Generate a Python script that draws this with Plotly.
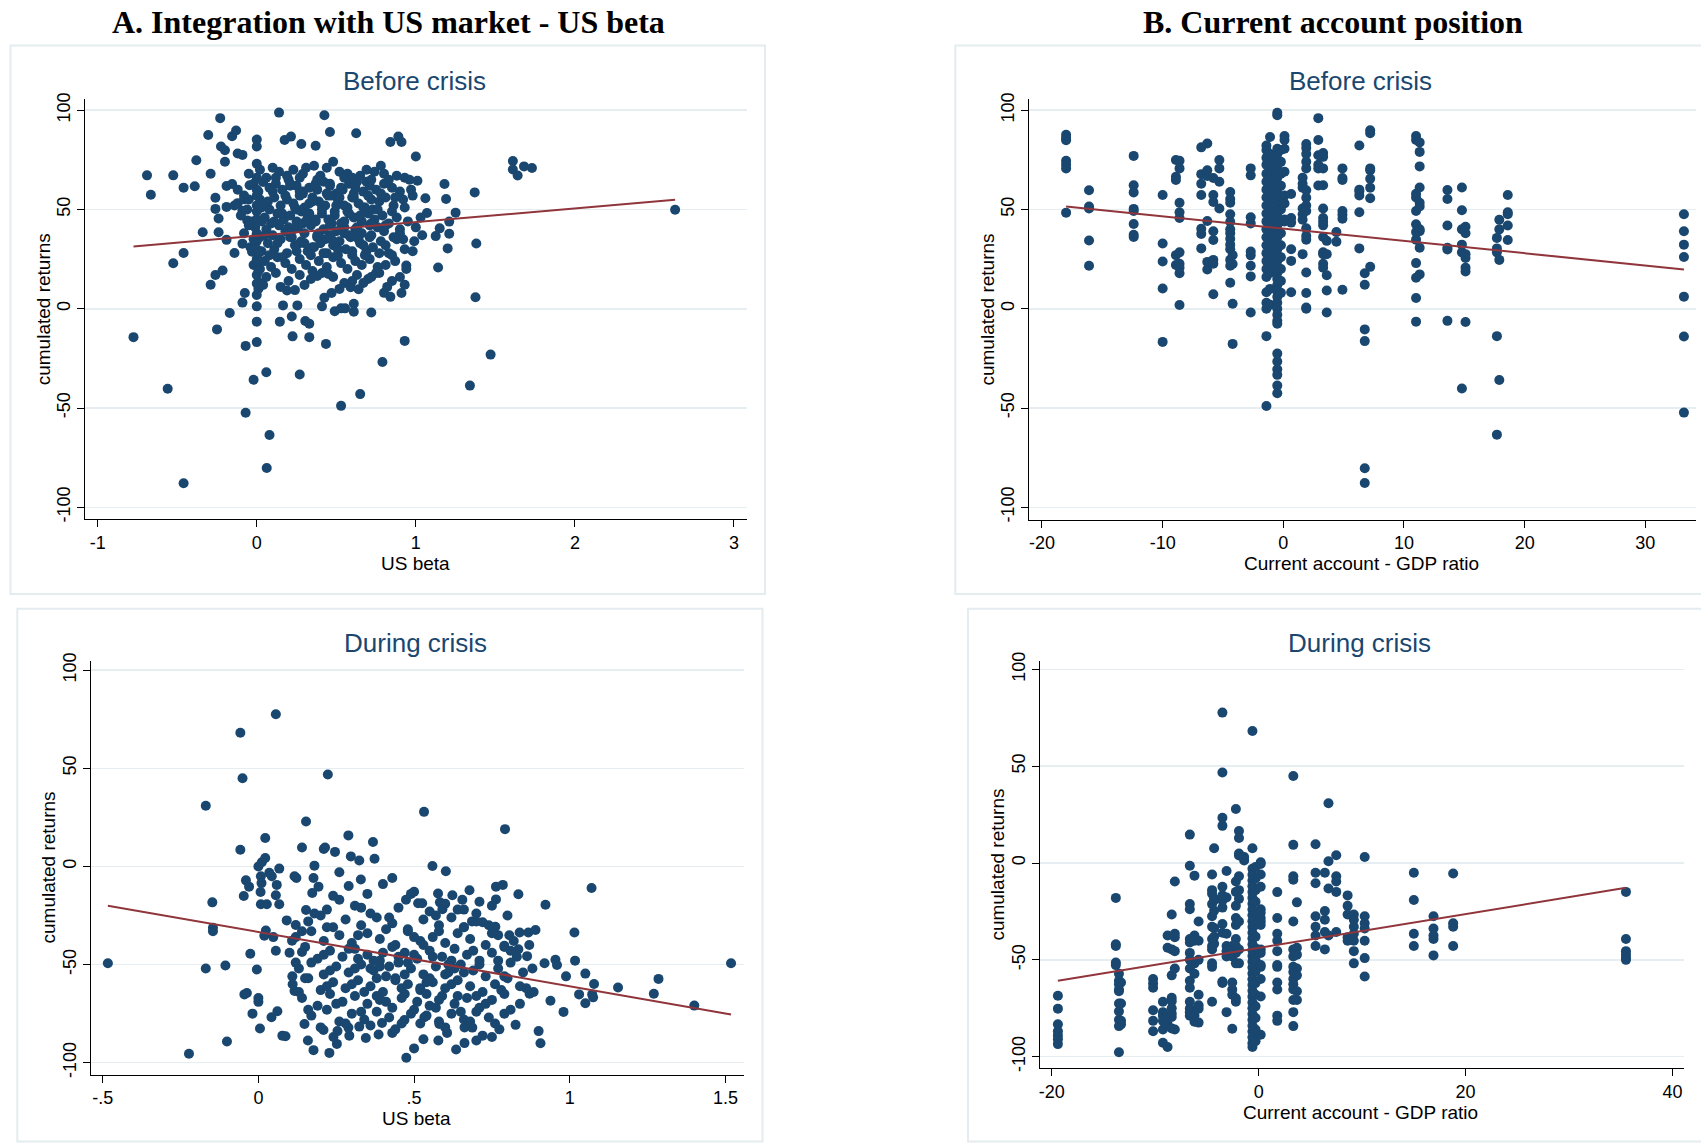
import plotly.graph_objects as go

# ---------------- DATA ----------------
# Panel A, before crisis: US beta (x) vs cumulated returns (y)
tl_x = [
    -0.775, -0.69, -0.666, -0.56, -0.525, -0.525, -0.46, -0.46, -0.46, -0.39,
    -0.38, -0.34, -0.305, -0.29, -0.29, -0.26, -0.26, -0.26, -0.25, -0.24,
    -0.24, -0.23, -0.225, -0.215, -0.2, -0.2, -0.19, -0.19, -0.19, -0.17,
    -0.155, -0.155, -0.14, -0.13, -0.12, -0.12, -0.09, -0.09, -0.09, -0.09,
    -0.08, -0.075, -0.07, -0.07, -0.06, -0.045, -0.03, -0.02, 0.0, 0.0,
    0.0, 0.0, 0.0, 0.06, 0.0625, 0.08, 0.14, 0.145, 0.165, 0.175,
    0.215, 0.22, 0.225, 0.255, 0.27, 0.28, 0.305, 0.33, 0.33, 0.37,
    0.41, 0.425, 0.425, 0.435, 0.46, 0.49, 0.53, 0.53, 0.555, 0.625,
    0.61, 0.61, 0.65, 0.72, 0.79, 0.8, 0.84, 0.84, 0.89, 0.91,
    0.91, 0.93, 0.93, 0.94, 1.0, 1.01, 1.06, 1.07, 1.125, 1.15,
    1.14, 1.18, 1.19, 1.2, 1.21, 1.21, 1.25, 1.34, 1.37, 1.375,
    1.38, 1.47, 1.61, 1.61, 1.64, 1.68, 1.73, 2.63,
    -0.05, 0.0, 0.02, 0.06, 0.1, 0.14, 0.19, 0.23, 0.27, 0.31, 0.36, 0.4, 0.44, 0.48, 0.52, 0.57, 0.6, 0.65, 0.69, 0.74, 0.78, 0.83, 0.88, 0.93, 0.96,
    -0.12, -0.02, 0.01, 0.04, 0.08, 0.12, 0.16, 0.2, 0.25, 0.29, 0.33, 0.38, 0.42, 0.46, 0.5, 0.54, 0.58, 0.62, 0.67, 0.71, 0.75, 0.8, 0.85, 0.9, 0.97,
    -0.14, -0.05, 0.0, 0.03, 0.07, 0.11, 0.15, 0.19, 0.23, 0.27, 0.3, 0.35, 0.39, 0.43, 0.47, 0.51, 0.55, 0.6, 0.64, 0.68, 0.72, 0.77, 0.81, 0.86, 0.92, 0.98,
    -0.1, -0.03, 0.0, 0.05, 0.09, 0.13, 0.17, 0.21, 0.25, 0.28, 0.32, 0.37, 0.41, 0.45, 0.49, 0.53, 0.57, 0.61, 0.66, 0.7, 0.74, 0.79, 0.83, 0.88, 0.95, 1.03,
    -0.08, -0.01, 0.02, 0.06, 0.1, 0.14, 0.18, 0.22, 0.26, 0.3, 0.34, 0.38, 0.42, 0.46, 0.5, 0.54, 0.58, 0.62, 0.66, 0.71, 0.76, 0.8, 0.86, 0.92, 0.99, 1.04,
    -0.04, 0.0, 0.03, 0.07, 0.11, 0.15, 0.19, 0.24, 0.28, 0.32, 0.36, 0.4, 0.44, 0.48, 0.52, 0.56, 0.6, 0.65, 0.69, 0.73, 0.78, 0.83, 0.88, 0.93, 0.98,
    -0.02, 0.0, 0.02, 0.05, 0.09, 0.13, 0.18, 0.22, 0.27, 0.31, 0.35, 0.39, 0.44, 0.48, 0.53, 0.57, 0.62, 0.66, 0.71, 0.76, 0.81, 0.87, 0.94,
    0.0, 0.02, 0.06, 0.12, 0.2, 0.27, 0.34, 0.41, 0.48, 0.55, 0.63, 0.7, 0.77, 0.85,
    0.21, 0.29, 0.37, 0.45, 0.53, 0.61, 0.69, 0.25, 0.33, 0.41, 0.49, 0.57, 0.65, 0.73, 0.23, 0.31, 0.39, 0.47, 0.55, 0.63, 0.71, 0.27, 0.35, 0.43, 0.51, 0.59, 0.67,
    0.0, 0.0, 0.0, 0.0, 0.0, 0.0, 0.01, 0.01,
    0.0, 0.0, 0.01, 0.19, 0.24, 0.59, 0.64, 0.38, 0.45, 0.47, 0.72, 0.75,
    0.04, 0.12, 0.21, 0.29, 0.38, 0.46, 0.55, 0.63, 0.72, 0.8,
    -0.08, 0.02, 0.1, 0.18, 0.27, 0.35, 0.44, 0.52, 0.61, 0.7, 0.78, 0.87,
    -0.06, 0.01, 0.08, 0.16, 0.24, 0.33, 0.41, 0.5, 0.58, 0.67, 0.76, 0.85, 0.93,
    -0.05, 0.03, 0.11, 0.2, 0.29, 0.37, 0.46, 0.55, 0.63, 0.72, 0.81, 0.9, 1.0,
    -0.02, 0.05, 0.13, 0.21, 0.3, 0.38, 0.47, 0.55, 0.64, 0.72, 0.81, 0.9,
    0.01, 0.08, 0.16, 0.25, 0.34, 0.42, 0.51, 0.6, 0.68, 0.77, 0.85,
    0.04, 0.15, 0.3, 0.52, 0.6, 0.67, 0.82, 0.9,
]
tl_y = [
    -14.3, 67.2, 57.4, -40.3, 67.2, 22.9, 61, 28.1, -87.9, 61.7,
    74.8, 38.5, 87.5, 68, 12.1, 55.9, 50.3, 17, -10.4, 45.5,
    38.5, 96, 81.7, 19.3, 79.8, 74, 61.8, 51.3, 34.7, -2.1,
    86.9, 62.8, 28.1, 89.8, 78.2, 53.2, 77.5, 49.3, 32.8, 3.1,
    55.1, 7.9, -18.7, -52.4, 44.5, 62.2, 28.7, -35.8, -6.5, -16.8,
    1.2, 85.2, 81.7, -32, -80.2, -63.6, 98.8, -6.5, 1.7, 85,
    86.7, -3.9, -13.9, 1.7, -33.1, 83, -6.2, -7.5, -14.3, 82.1,
    1.2, 97.5, 5.6, -17.7, 89, -1.3, -48.9, 0.2, 0.2, 88.4,
    2.5, -1.5, -43, -1.9, -26.8, 8, 6, 84, 86.7, 84,
    7.9, 12.1, -16.2, 21.8, 76.7, 64.5, 55.7, 48.2, 36.6, 40.5,
    20.8, 62.8, 55.3, 30.4, 37.8, 43.9, 48.4, -38.7, 58.6, 5.8,
    32.9, -23.1, 74.4, 70.1, 67.1, 71.7, 70.9, 49.9,
    68, 73, 70, 66, 71, 69, 67, 70, 66, 71, 72, 67, 71, 74, 69, 68, 66, 67, 70, 69, 72, 65, 67, 66, 65,
    60, 63, 59, 64, 61, 63, 60, 65, 62, 59, 61, 60, 64, 62, 58, 60, 63, 61, 59, 62, 60, 63, 61, 59, 60,
    52, 55, 57, 51, 54, 56, 52, 55, 53, 57, 51, 56, 54, 52, 57, 55, 52, 56, 53, 51, 55, 54, 56, 52, 55, 57,
    47, 44, 49, 46, 43, 48, 45, 47, 44, 49, 46, 44, 48, 45, 47, 43, 49, 46, 44, 48, 45, 47, 43, 46, 44, 46,
    38, 41, 36, 40, 37, 42, 39, 36, 41, 38, 42, 36, 40, 37, 39, 42, 37, 40, 38, 36, 41, 39, 36, 35, 34, 37,
    31, 34, 29, 33, 30, 35, 28, 32, 34, 29, 31, 33, 28, 32, 34, 30, 27, 33, 29, 31, 34, 28, 35, 30, 29,
    22, 25, 20, 24, 21, 26, 23, 20, 25, 22, 19, 24, 21, 26, 23, 20, 24, 22, 25, 21, 22, 24, 20,
    17, 13, 16, 18, 14, 17, 15, 18, 16, 13, 17, 15, 18, 14,
    62, 58, 63, 57, 61, 56, 64, 50, 48, 52, 49, 51, 47, 50, 40, 44, 38, 43, 41, 39, 42, 33, 31, 35, 30, 36, 32,
    66, 60, 52, 45, 38, 30, 24, 19,
    6.9, 12.7, 10, 9.2, 9.4, 10.8, 9.8, 16.5, 17.5, 7.9, 16, 18,
    64, 66, 63, 68, 65, 63, 66, 64, 65, 68,
    57, 55, 59, 57, 59, 54, 58, 56, 58, 57, 58, 56,
    50, 52, 50, 48, 51, 53, 50, 52, 48, 51, 50, 49, 51,
    42, 44, 44, 41, 43, 45, 42, 44, 41, 43, 42, 40, 41,
    35, 37, 33, 36, 33, 37, 35, 38, 35, 37, 32, 38,
    28, 27, 26, 29, 27, 28, 27, 29, 27, 28, 27,
    12, 11, 12, 10, 14, 13, 11, 16,
]
tl_fit_x = [-0.775, 2.63]
tl_fit_y = [31.4, 54.9]

# Panel B, before crisis: current account / GDP (columns by country) vs returns
tr_ca = [-18.0, -16.1, -12.4, -10.0, -8.9, -8.6, -6.8, -6.3, -5.8, -5.3, -4.4, -4.2, -2.7,
         -1.4, -1.1, -0.5, -0.2, 0.1, 0.65, 1.6, 1.9, 2.9, 3.3, 3.6, 4.4, 4.9, 6.3, 6.75,
         7.2, 11.0, 11.3, 13.6, 14.8, 15.1, 17.7, 17.9, 18.6, 33.2]
tr_ret = [
    [87.6, 86, 84.9, 74.5, 72.7, 70.7, 48.4],
    [59.7, 51.5, 50.5, 34.4, 21.7],
    [77, 62.2, 58.6, 50.3, 49.2, 42.7, 37.3, 36.1],
    [57.3, 32.9, 23.8, 10.2, -16.7],
    [74.9, 66.5, 64.9, 27, 22],
    [74.5, 70.7, 53.4, 48.6, 45.7, 28.4, 22.7, 20.7, 17.9, 1.9],
    [81.3, 67.8, 63, 57.3, 40.3, 37.7, 30.4],
    [83.2, 69.7, 66.9, 44.2, 23.6, 19.8],
    [65.9, 57.3, 53.8, 39, 34.6, 24.6, 22.7, 7.3],
    [74.9, 70.7, 64, 50.5],
    [58.8, 55.3, 53.4, 47.6, 43.8, 40, 38, 35.2, 32.3, 30, 24.6, 21.7, 13.1],
    [27, 22.5, 2.5, -17.7],
    [70.7, 67.2, 46.1, 43, 28.8, 26.9, 21.7, 16.3, -1.9],
    [82.2, 80, 76, 72.5, 68, 64, 60, 56, 52, 48, 44, 40, 36, 32, 28, 24, 20, 16, 8.3, 3, 0, -13.8, -49],
    [86.5, 78, 74, 70, 66, 62, 58, 54, 50, 46, 42, 38, 34, 30, 26, 22, 18, 10, 2],
    [98.7, 97.5, 80.6, 78, 75, 72, 69, 66, 63, 60, 57, 54, 51, 48, 45, 42, 39, 36, 33, 30, 27, 24,
     21, 18, 15, 12, 9, 6, 3, 0, -3, -6, -7.5, -22.6, -26.6, -30.5, -33.3, -38.7, -42.6],
    [80, 74, 68, 62, 56, 50, 44, 38, 32, 26, 20, 14, 8],
    [87, 85, 80.6, 69, 57, 53, 45, 44],
    [57.8, 45.7, 43.4, 30, 24.1, 8.3],
    [66, 63, 61, 50.5, 47.6, 44.8, 27.5],
    [83, 81, 78, 74, 70.7, 59.7, 55.9, 52, 49.2, 40.5, 36.7, 34.8, 18.3, 7.9, 0.6, 0],
    [96, 85, 77.3, 72.5, 70.7, 62.1],
    [78.4, 76.5, 70.7, 62.2, 50.5, 45.7, 43.8, 42, 36.1, 28.4, 27.5, 22.7, 20.7],
    [34.2, 27.5, 16.9, 9.2, -1.9],
    [38.6, 33.8],
    [70.7, 65.9, 64.9, 49.2, 47.3, 45.3, 9.6],
    [82.2, 60, 59, 57.1, 48.6, 30.4],
    [17.9, 12.1, -10.4, -16.3, -80.3, -87.8],
    [89.9, 88.4, 70.7, 69.7, 65.5, 61, 55.7, 21.1],
    [87, 85, 57.9, 56, 49.2, 42.5, 38.6, 34.8, 23, 15.6, 5.4, -6.5],
    [83.8, 79, 71.7, 61.1, 53.4, 51.5, 40, 39, 30.7, 17.3],
    [59.8, 55.3, 41.9, 30.7, 29.9, -6.1],
    [61.1, 49.6, 40, 32.3, 28.4, -40.2],
    [41.3, 38, 27.5, 25.6, 20.7, 18.8, -6.7],
    [35.7, 30.4, 28.4, -13.8, -63.4],
    [44.8, 40, 24.6, -35.9],
    [57.3, 48.6, 47.6, 41.9, 34.6],
    [47.6, 39, 32.3, 26.1, 6.1, -14, -52.3],
]
tr_fit_x = [-18.0, 33.2]
tr_fit_y = [51.5, 19.8]

# Panel A, during crisis
bl_x = [
    -0.4835, -0.223, -0.169, -0.169, -0.148, -0.146, -0.146, -0.106, -0.101, -0.058,
    -0.051, -0.058, -0.047, -0.045, -0.037, -0.04, -0.03, -0.026, -0.019, -0.005,
    0.0, 0.0, 0.005, 0.0, 0.011, 0.022, 0.022, 0.008, 0.01, 0.007,
    0.008, 0.027, 0.024, 0.019, 0.056, 0.043, 0.035, 0.067, 0.059, 0.056,
    0.067, 0.048, 0.056, 0.042, 0.061, 0.077, 0.087, 0.091, 0.108, 0.109,
    0.116, 0.116, 0.122, 0.12, 0.14, 0.14, 0.153, 0.153, 0.148, 0.159,
    0.177, 0.18, 0.177, 0.173, 0.193, 0.21, 0.214, 0.223, 0.228, 0.246,
    0.289, 0.297, 0.324, 0.329, 0.368, 0.373, 0.43, 0.474, 0.475, 0.5,
    0.513, 0.526, 0.5, 0.532, 0.559, 0.602, 0.577, 0.583, 0.591, 0.623,
    0.635, 0.655, 0.678, 0.763, 0.785, 0.763, 0.792, 0.835, 0.922, 1.015,
    1.017, 1.07, 1.05, 1.03, 1.05, 1.078, 1.072, 1.075, 0.988, 0.98,
    0.938, 0.9, 0.906, 1.155, 1.27, 1.285, 1.40, 1.518, 0.826, 0.774,
    0.75, 0.72, 0.70, 0.662, 0.662, 0.687, 0.53, 0.578, 0.581, 0.606,
    0.43, 0.386, 0.345, 0.292, 0.289, 0.252, 0.241, 0.209, 0.254, 0.324,
    0.397, 0.469, 0.533, 0.863, 0.919, 0.954, 0.959, 0.871, 0.884, 0.835,
    0.839, 0.867, 0.89, 0.806, 0.761, 0.72, 0.686, 0.79,
    0.16, 0.2, 0.24, 0.28, 0.33, 0.38, 0.43, 0.48, 0.53, 0.58, 0.62, 0.66, 0.7, 0.74,
    0.12, 0.17, 0.21, 0.26, 0.3, 0.35, 0.39, 0.44, 0.48, 0.52, 0.56, 0.6, 0.64, 0.68, 0.73, 0.77, 0.82,
    0.1, 0.15, 0.19, 0.23, 0.27, 0.31, 0.35, 0.39, 0.43, 0.47, 0.51, 0.55, 0.59, 0.63, 0.67, 0.71, 0.75, 0.79, 0.83,
    0.13, 0.17, 0.21, 0.25, 0.29, 0.33, 0.37, 0.41, 0.45, 0.49, 0.53, 0.57, 0.61, 0.65, 0.69, 0.73, 0.77, 0.81, 0.85,
    0.11, 0.16, 0.2, 0.24, 0.28, 0.32, 0.36, 0.4, 0.44, 0.48, 0.52, 0.56, 0.6, 0.64, 0.68, 0.72, 0.76, 0.8, 0.86,
    0.14, 0.19, 0.23, 0.27, 0.31, 0.35, 0.39, 0.43, 0.47, 0.51, 0.55, 0.59, 0.63, 0.67, 0.71, 0.75, 0.79, 0.84,
    0.17, 0.22, 0.26, 0.3, 0.34, 0.38, 0.42, 0.46, 0.5, 0.54, 0.58, 0.62, 0.66, 0.7, 0.74, 0.79,
    0.32, 0.36, 0.4, 0.44, 0.48, 0.52, 0.56, 0.6, 0.64, 0.34, 0.38, 0.42, 0.46, 0.5, 0.54, 0.58, 0.62, 0.66,
    0.22, 0.26, 0.29, 0.31, 0.36, 0.4, 0.45, 0.55, 0.6, 0.66, 0.7, 0.75, 0.26, 0.35,
    0.14, 0.22, 0.32, 0.41, 0.5, 0.58, 0.66, 0.75,
    0.12, 0.21, 0.29, 0.37, 0.45, 0.53, 0.61, 0.69, 0.77, 0.81, 0.87,
    0.15, 0.23, 0.31, 0.39, 0.47, 0.55, 0.63, 0.71, 0.79, 0.88,
    0.13, 0.22, 0.3, 0.38, 0.46, 0.54, 0.62, 0.7, 0.78, 0.84,
    0.16, 0.25, 0.33, 0.41, 0.49, 0.57, 0.65, 0.73, 0.81,
    0.2, 0.28, 0.36, 0.44, 0.52, 0.6, 0.68, 0.76,
    0.18, 0.24, 0.33, 0.42, 0.49, 0.57, 0.64, 0.71, 0.8,
]
bl_y = [
    -49.3, -95.4, 30.9, -52, -18.3, -31.2, -33, -50.5, -89.2, 68.1,
    44.9, 8.5, -15.1, -65.2, -64.5, -7.1, -10.3, -44.5, -75, -52.5,
    -67, -69, -82.6, 0, 2.1, 4.3, 14.5, -5, -8.5, -13,
    -19.3, -19.3, -32.6, -35.3, 77.5, -5, -3.2, -1.1, -9.4, -14.7,
    -19.3, -36, -43, -76.8, -73.8, -86.2, -86.5, -27.5, -37.8, -56,
    -63.5, -5, -5.9, -29.8, -43.6, 9.6, 22.9, -22.2, -80.3, -88.7,
    -93.6, 0.4, -5.9, -13.5, -10.3, 8.9, 9.6, 46.8, -95, 7.4,
    15.8, 5.1, 3, -6.7, 12.4, 3.9, -5.9, -17, -97.5, -12.9,
    -18.8, -18.8, -92.7, 27.8, 0.2, -2.5, -13.8, -18.3, -21.8, -14.7,
    -93.3, -17, -12.1, -10.3, -9.4, -16.8, 19, -14.2, -19.5, -33.7,
    -48, -11, -54.6, -65.2, -69.7, -59.9, -65.2, -66.7, -56, -74.1,
    -68.4, -83.9, -90.1, -61.7, -64.9, -57.3, -70.9, -49.3, -80.7, -83,
    -86.9, -86.2, -88.7, -90, -82, -82.1, -88, -88.7, -80.3, -84.8,
    -84.8, -85.6, -87.4, -86.2, -82.1, -90.4, -86.9, -83.3, -83.9, -81.6,
    -79.8, -78.2, -76.8, -45.7, -49.3, -47.5, -50.2, -64.9, -64, -42.2,
    -33.7, -33.7, -32.4, -35.1, -30.7, -28.4, -28, -40.4,
    -28, -25, -31, -27, -30, -26, -29, -32, -27, -30, -26, -31, -28, -30,
    -36, -33, -38, -35, -39, -34, -37, -40, -33, -38, -36, -39, -34, -37, -40, -35, -38,
    -44, -41, -47, -43, -46, -42, -45, -48, -41, -44, -47, -43, -46, -42, -45, -48, -44, -41, -46,
    -52, -49, -55, -51, -54, -50, -53, -56, -49, -52, -55, -51, -54, -50, -53, -56, -52, -49, -54,
    -60, -57, -63, -59, -62, -58, -61, -64, -57, -60, -63, -59, -62, -58, -61, -64, -60, -57, -62,
    -67, -71, -65, -69, -66, -70, -68, -72, -65, -69, -71, -66, -70, -67, -72, -68, -65, -70,
    -76, -73, -79, -75, -78, -74, -77, -80, -73, -76, -79, -75, -78, -74, -77, -75,
    -47, -52, -44, -58, -49, -62, -46, -55, -66, -64, -57, -51, -67, -45, -59, -68, -48, -54,
    -22, -17, -10, -20, -24, -9, -21, -23, -19, -22, -24, -20, -3, -14,
    -33, -31, -35, -32, -36, -33, -31, -34,
    -49, -45, -42, -48, -46, -40, -50, -43, -48, -43, -40,
    -57, -53, -52, -51, -55, -57, -52, -50, -56, -52,
    -64, -61, -60, -66, -62, -65, -60, -66, -63, -61,
    -73, -70, -74, -69, -75, -72, -74, -70, -73,
    -82, -80, -81, -83, -80, -82, -79, -80,
    -24, -15, -21, -26, -14, -25, -22, -18, -25,
]
bl_fit_x = [-0.4835, 1.518]
bl_fit_y = [-20.0, -75.4]

# Panel B, during crisis
br_ca = [-19.4, -13.8, -13.5, -13.3, -10.2, -9.25, -8.8, -8.4, -8.1, -6.65, -6.2, -5.8,
         -4.5, -4.3, -3.5, -3.1, -2.55, -2.2, -1.9, -1.4, -0.6, -0.3, 0.2, 1.8, 3.35, 3.7,
         5.5, 6.4, 6.75, 7.5, 8.6, 9.2, 10.25, 15.0, 16.9, 18.8, 35.5]
br_ret = [
    [-68.5, -75.2, -83.3, -86.9, -89, -91, -93.5],
    [-18, -41.9, -42.8, -51.4, -52.7],
    [-57.2, -60.8, -62.6, -65.3, -66.2, -72.5, -76.6, -80.9, -84.2, -97.7],
    [-61.7, -72.5, -81.5, -83.3],
    [-59.9, -62.2, -64.4, -76, -81.5, -86.9],
    [-71.6, -77, -78.8, -81.5, -86, -92.8],
    [-37.4, -43.7, -78.8, -83.3, -95],
    [-26.6, -44.6, -58, -69.6, -71.4, -75, -77.7, -79.5, -85.4],
    [-9.5, -36.5, -38.3, -45.5, -54.5, -86],
    [14.7, -1.4, -21.2, -23.9, -39.2, -41, -46.4, -50, -54.5, -60.8, -64.4, -71.6, -75.2, -77, -78.8],
    [-6.5, -37.4, -40.1, -51.8, -57.2, -78.8, -82],
    [-30.2, -40.1, -50, -68, -73.4, -75.2, -82.4],
    [-5.9, -14, -15.8, -21.2, -27.5, -32.9, -39.2, -42.8, -44.6, -51.8, -53.6, -71.6],
    [7.6, -18.3, -19.2, -24.6, -33.6, -38.1, -41.7],
    [77.7, 46.8, 23.4, 19.2, -12.2, -16.7, -19.4, -23, -31.5, -36, -61.2, -61.9],
    [-4.1, -17.8, -36.5, -42.8, -45.5, -48.2, -77],
    [-42.8, -48.2, -61.7, -65.3, -68, -85.6],
    [27.9, -9.5, -14.9, -22.1, -28.4, -32, -39.2, -42.8, -46.4, -51.8, -69.8, -71.6],
    [16.5, 12.9, 4.9, 3.9, -6.8, -14, -18.5, -30.2, -44.6, -51.8],
    [1.3, 3.1],
    [68.2, 7.6, -3, -6, -9, -12, -15, -18, -21, -24, -27, -30, -33, -36, -39, -42, -45, -48,
     -51, -54, -57, -60, -63, -66, -69, -72, -75, -78, -81, -84, -87, -90, -93, -95],
    [-2, -8, -14, -20, -26, -32, -38, -44, -50, -56, -62, -68, -74, -80, -86, -92],
    [0.4, -0.5, -5.9, -12.2, -23.9, -25.7, -28.4, -30.2, -32, -44.6, -46.4, -52.7, -53.6, -59.9, -68.9, -88.7],
    [-15, -28.4, -36.5, -40.1, -45.5, -52.7, -53.6, -61.7, -65.3, -78.8, -81.5],
    [45, 9.4, -6.8, -8.6, -30.2, -44.6, -48.2, -53.6, -56.3, -59.9, -62.6, -65.3, -70.7, -77, -84.2],
    [-20.3, -43.7, -47.3, -54.5, -58, -66.2, -70.7],
    [9.7, -5, -10.4, -27.5, -32.9, -37.4, -42.8],
    [-5, -24.8, -29.3, -35.6, -44.6],
    [30.9, 0.9, -13.1, -37.4],
    [4, -6.8, -9.5, -14.9, -35.6],
    [-16.7, -22.1, -26.6, -38.3, -40.1],
    [-26.6, -29.3, -32.9, -36.5, -40.1, -45.5, -51.8],
    [3.1, -27.5, -31.1, -33.8, -40.1, -49.1, -58.6],
    [-5, -19.1, -36.5, -42.8],
    [-27.5, -33.8, -37.4, -39.2, -47.7],
    [-5.4, -31.1, -32.9, -42.8],
    [-14.9, -39.2, -45.5, -47.3, -49.1, -50],
]
br_fit_x = [-19.4, 35.5]
br_fit_y = [-60.8, -12.8]

y_ticks = [-100, -50, 0, 50, 100]
y_ticktext = ['-100', '-50', '0', '50', '100']
beta_ticks_before = [-1, 0, 1, 2, 3]
beta_text_before = ['-1', '0', '1', '2', '3']
beta_ticks_during = [-0.5, 0, 0.5, 1, 1.5]
beta_text_during = ['-.5', '0', '.5', '1', '1.5']
ca_ticks_before = [-20, -10, 0, 10, 20, 30]
ca_text_before = ['-20', '-10', '0', '10', '20', '30']
ca_ticks_during = [-20, 0, 20, 40]
ca_text_during = ['-20', '0', '20', '40']

# ---------------- FIGURE ----------------
W, H = 1701, 1143
NAVY = '#1a476f'
MAROON = '#90353b'
GRID = '#e6eef2'
BOXC = '#e4ecf0'
FONT = 'Arial, Liberation Sans, sans-serif'


def fx(p):
    return p / W


def fy(p):
    return 1 - p / H


def expand(cols, vals):
    xs, ys = [], []
    for c, v in zip(cols, vals):
        for r in v:
            xs.append(c)
            ys.append(r)
    return xs, ys


tr_x, tr_y = expand(tr_ca, tr_ret)
br_x, br_y = expand(br_ca, br_ret)

panels = [
    dict(x=tl_x, y=tl_y, fx_=tl_fit_x, fy_=tl_fit_y, area=(85.3, 746.7, 98.7, 519.3),
         xr=[-1.078, 3.08], yr=[-106.05, 105.8], tv=beta_ticks_before, tt=beta_text_before,
         title='Before crisis', xtitle='US beta'),
    dict(x=tr_x, y=tr_y, fx_=tr_fit_x, fy_=tr_fit_y, area=(1029.3, 1696.0, 98.7, 519.8),
         xr=[-21.05, 34.2], yr=[-106.3, 105.8], tv=ca_ticks_before, tt=ca_text_before,
         title='Before crisis', xtitle='Current account - GDP ratio'),
    dict(x=bl_x, y=bl_y, fx_=bl_fit_x, fy_=bl_fit_y, area=(90.7, 743.5, 660.9, 1074.7),
         xr=[-0.5386, 1.558], yr=[-106.1, 104.7], tv=beta_ticks_during, tt=beta_text_during,
         title='During crisis', xtitle='US beta'),
    dict(x=br_x, y=br_y, fx_=br_fit_x, fy_=br_fit_y, area=(1040.0, 1683.9, 660.9, 1068.3),
         xr=[-21.13, 41.1], yr=[-106.0, 104.4], tv=ca_ticks_during, tt=ca_text_during,
         title='During crisis', xtitle='Current account - GDP ratio'),
]

fig = go.Figure()
layout = dict(
    width=W, height=H, margin=dict(l=0, r=0, t=0, b=0, pad=0, autoexpand=False),
    paper_bgcolor='white', plot_bgcolor='white', showlegend=False,
    font=dict(family=FONT, color='black'),
)
annotations = []
shapes = []

boxes = [(10.5, 765.0, 45.5, 594.0), (955.3, 1712.0, 45.5, 594.0),
         (17.3, 762.5, 608.7, 1141.5), (968.0, 1712.0, 608.7, 1141.5)]
for (l, r, t, b) in boxes:
    shapes.append(dict(type='rect', xref='paper', yref='paper', x0=fx(l), x1=fx(r), y0=fy(b), y1=fy(t),
                       line=dict(color=BOXC, width=2), fillcolor='rgba(0,0,0,0)', layer='below'))

for i, p in enumerate(panels):
    n = '' if i == 0 else str(i + 1)
    l, r, t, b = p['area']
    fig.add_trace(go.Scatter(x=p['x'], y=p['y'], mode='markers',
                             marker=dict(size=10, color=NAVY, line=dict(width=0)),
                             xaxis='x' + n, yaxis='y' + n, cliponaxis=False))
    fig.add_trace(go.Scatter(x=p['fx_'], y=p['fy_'], mode='lines',
                             line=dict(color=MAROON, width=2),
                             xaxis='x' + n, yaxis='y' + n))
    layout['xaxis' + n] = dict(
        domain=[fx(l), fx(r)], range=p['xr'], anchor='y' + n,
        showline=True, linecolor='black', linewidth=1, mirror=False,
        ticks='outside', ticklen=7, tickwidth=1, tickcolor='black',
        tickvals=p['tv'], ticktext=p['tt'], showgrid=False, zeroline=False,
        tickfont=dict(family=FONT, size=18, color='black'), fixedrange=True,
    )
    layout['yaxis' + n] = dict(
        domain=[fy(b), fy(t)], range=p['yr'], anchor='x' + n,
        showline=True, linecolor='black', linewidth=1,
        ticks='outside', ticklen=7, tickwidth=1, tickcolor='black',
        tickvals=y_ticks, ticktext=y_ticktext, tickangle=-90,
        showgrid=True, gridcolor=GRID, gridwidth=1.5, zeroline=False,
        tickfont=dict(family=FONT, size=18, color='black'), fixedrange=True,
    )
    cx = (l + r) / 2
    annotations.append(dict(text=p['title'], xref='paper', yref='paper', x=fx(cx - 2), y=fy(t - 18),
                            xanchor='center', yanchor='middle', showarrow=False,
                            font=dict(family=FONT, size=26, color=NAVY)))
    annotations.append(dict(text=p['xtitle'], xref='paper', yref='paper', x=fx(cx - 1), y=fy(b + 44),
                            xanchor='center', yanchor='middle', showarrow=False,
                            font=dict(family=FONT, size=19, color='black')))
    annotations.append(dict(text='cumulated returns', xref='paper', yref='paper', x=fx(l - 42),
                            y=fy((t + b) / 2), xanchor='center', yanchor='middle', showarrow=False,
                            textangle=-90, font=dict(family=FONT, size=19, color='black')))

annotations.append(dict(text='<b>A. Integration with US market - US beta</b>', xref='paper', yref='paper',
                        x=fx(388), y=fy(22), xanchor='center', yanchor='middle', showarrow=False,
                        font=dict(family='Liberation Serif, Times New Roman, serif', size=32, color='black')))
annotations.append(dict(text='<b>B. Current account position</b>', xref='paper', yref='paper',
                        x=fx(1333), y=fy(22), xanchor='center', yanchor='middle', showarrow=False,
                        font=dict(family='Liberation Serif, Times New Roman, serif', size=32, color='black')))

layout['annotations'] = annotations
layout['shapes'] = shapes
fig.update_layout(**layout)
fig.write_html('out.html',
               config={'displayModeBar': False, 'staticPlot': True},
               post_script="document.body.style.margin='0';document.body.style.padding='0';"
                           "document.documentElement.style.overflow='hidden';")
